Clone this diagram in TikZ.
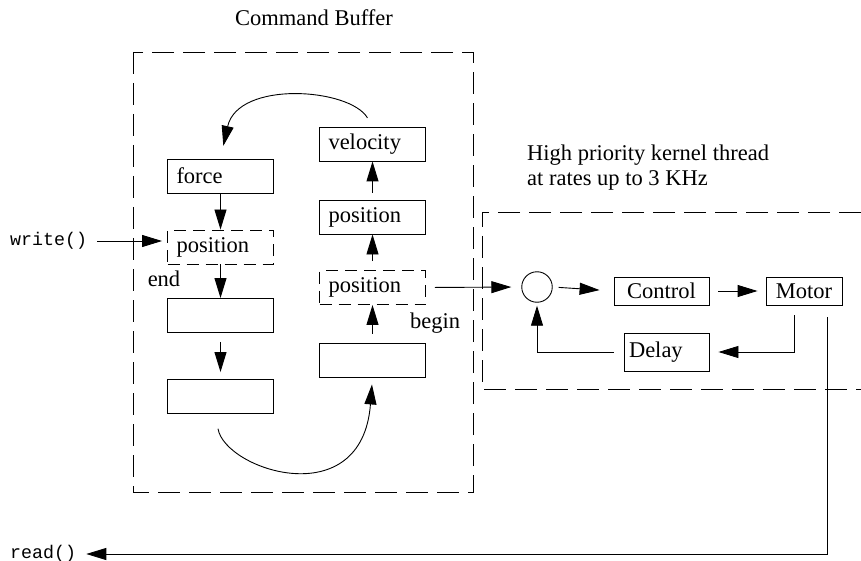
\documentclass[tikz,border=0pt]{standalone}
\usepackage{fontspec}
\setmainfont{Liberation Serif}
\setmonofont{Liberation Mono}
\usetikzlibrary{arrows.meta}
\begin{document}
\begin{tikzpicture}[x=1pt,y=-1pt,
  every node/.style={font=\fontsize{22.5}{26}\selectfont},
  cell/.style={draw, line width=0.9pt, minimum height=34pt, text width=88pt, inner xsep=9pt, inner ysep=0pt, align=left},
  dcell/.style={cell, dash pattern=on 12pt off 7pt},
  kbox/.style={draw, line width=0.9pt, minimum height=28pt, inner xsep=0pt, inner ysep=0pt},
  lab/.style={inner sep=0pt},
  mono/.style={inner sep=0pt, font=\ttfamily\fontsize{18.3}{20}\selectfont},
  arr/.style={line width=0.9pt, -{Triangle[length=20pt,width=12pt]}},
  ln/.style={line width=0.9pt},
  bigdash/.style={line width=0.9pt, dash pattern=on 22pt off 9pt}]
\useasboundingbox (0,0) rectangle (861,561);

% Command buffer frame
\draw[bigdash] (133,52) rectangle (473,492);
\node[lab] (cbt) at (314,18) {Command Buffer};

% left column
\node[cell]  (force) at (220.5,176) {force};
\node[dcell] (posL)  at (220.5,247) {position};
\node[cell]  (b3)    at (220.5,315.5) {};
\node[cell]  (b4)    at (220.5,396.5) {};

% right column
\node[cell]  (vel)   at (372.5,144) {velocity};
\node[cell]  (posR1) at (372.5,217) {position};
\node[dcell] (posR2) at (372.5,287.5) {position};
\node[cell]  (bR)    at (372.5,360) {};

\node[lab] (endl) at (164,279) {end};
\node[lab] (beginl) at (435,323) {begin};

% column arrows
\draw[arr] (force.south) -- (posL.north);
\draw[arr] (posL.south) -- (b3.north);
\draw[arr, shorten <=9pt, shorten >=7pt] (b3.south) -- (b4.north);
\draw[arr, shorten <=9pt] (bR.north) -- (posR2.south);
\draw[arr, shorten <=9pt] (posR2.north) -- (posR1.south);
\draw[arr, shorten <=7pt] (posR1.north) -- (vel.south);

% curved arrows
\draw[arr, shorten <=10pt, shorten >=13pt] (vel.north) .. controls (350,88) and (238,80) .. (force.north);
\draw[arr, shorten <=15pt, shorten >=7pt] ([xshift=-5pt]b4.south) .. controls (225,470) and (362,515) .. (bR.south);

% write / read
\node[mono, anchor=west] (wr) at (10,241) {write()};
\coordinate (wend) at (posL.west |- wr.east);
\draw[arr, shorten <=10pt, shorten >=5pt] (wr.east) -- (wend);

% kernel thread frame
\draw[bigdash] (861,212) -- (482,212) -- (482,389) -- (861,389);
\node[lab, align=left, anchor=north west] (kt) at (527,145) {High priority kernel thread\\[-1pt]at rates up to 3 KHz};

% control loop
\node[draw, circle, line width=0.9pt, minimum size=30.5pt, inner sep=0pt] (sum) at (537,287) {};
\node[kbox, minimum width=95pt] (ctrl) at (661.5,291) {Control};
\node[kbox, minimum width=76pt] (motor) at (804,291) {Motor};
\node[kbox, minimum width=85pt, minimum height=38pt, text width=75pt, align=left, inner xsep=5pt] (delay) at (666.5,352) {Delay};

\draw[arr, shorten <=9pt, shorten >=10pt] (posR2.east) -- (sum.west);
\draw[arr, shorten <=6pt, shorten >=14pt] (sum.east) -- (ctrl.west);
\draw[arr, shorten <=9pt, shorten >=8pt] (ctrl.east) -- (motor.west);
\draw[arr, shorten <=10pt, shorten >=9pt] ([xshift=-10pt]motor.south) |- (delay.east);
\draw[arr, shorten <=10pt, shorten >=3pt] (delay.west) -| (sum.south);

\node[mono, anchor=west] (rd) at (10,554) {read()};
\draw[arr, shorten <=12pt, shorten >=10pt] ([xshift=23pt]motor.south) |- (rd.east);
\end{tikzpicture}
\end{document}
